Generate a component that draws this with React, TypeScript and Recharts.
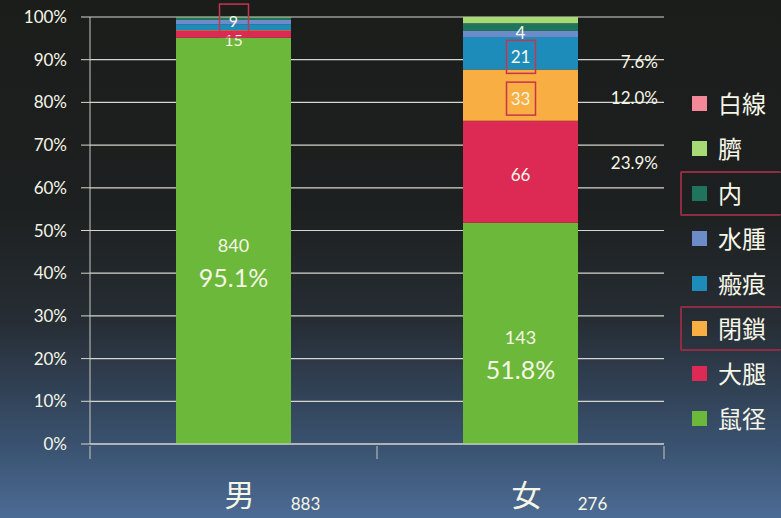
import React from 'react';
import { BarChart, Bar, XAxis, YAxis, CartesianGrid, LabelList } from 'recharts';

// hernia type counts by sex
const categories = ['男', '女'];
const totals = [883, 276];
const groin = [840, 143]; // 鼠径
const femoral = [15, 66]; // 大腿
const obturator = [1, 33]; // 閉鎖
const incisional = [12, 21]; // 瘢痕
const hydrocele = [9, 4]; // 水腫
const internal = [5, 5]; // 内
const umbilical = [1, 4]; // 臍
const linea = [0, 0]; // 白線
const yTicks = [0, 0.1, 0.2, 0.3, 0.4, 0.5, 0.6, 0.7, 0.8, 0.9, 1];

const series = [
  { key: 'groin', name: '鼠径', color: '#6cb83a', values: groin },
  { key: 'femoral', name: '大腿', color: '#dc2a55', values: femoral },
  { key: 'obturator', name: '閉鎖', color: '#f8ae42', values: obturator },
  { key: 'incisional', name: '瘢痕', color: '#1e8cba', values: incisional },
  { key: 'hydrocele', name: '水腫', color: '#6b8cc8', values: hydrocele },
  { key: 'internal', name: '内', color: '#20735c', values: internal },
  { key: 'umbilical', name: '臍', color: '#a6da74', values: umbilical },
  { key: 'linea', name: '白線', color: '#f28898', values: linea },
];

// which bars get a count label, a red highlight box, or a % note on the right
const countLabels: Record<string, number[]> = { groin: [0, 1], femoral: [0, 1], obturator: [1], incisional: [1], hydrocele: [0, 1] };
const boxedLabels: Record<string, number[]> = { hydrocele: [0], obturator: [1], incisional: [1] };
const sideNotes: Record<string, number[]> = { femoral: [1], obturator: [1], incisional: [1] };
const noteShift: Record<string, number> = { femoral: -9, obturator: 2, incisional: 8 };
const legendHighlight = ['内', '閉鎖'];

const data = categories.map((name, i) => {
  const row: any = { name, total: totals[i] };
  series.forEach((s) => { row[s.key] = s.values[i]; });
  return row;
});

const FONT = "Lato, 'Noto Sans CJK JP', sans-serif";
const TXT = '#f6f6e6';
const BAND = 287;

const pct = (v: number, t: number) => ((v / t) * 100).toFixed(1) + '%';

const makeLabel = (s: typeof series[number]) => (props: any) => {
  const { x, y, width, height, index } = props;
  if (!(countLabels[s.key] || []).includes(index)) return null;
  const cx = x + width / 2;
  const cy = y + height / 2;
  const v = s.values[index];
  const t = totals[index];
  if (s.key === 'groin') {
    return (
      <g fontFamily={FONT}>
        <text x={cx} y={cy + 4} fill={TXT} fontSize={18} textAnchor="middle" dominantBaseline="central">{v}</text>
        <text x={cx} y={cy + 36} fill={TXT} fontSize={25} textAnchor="middle" dominantBaseline="central">{pct(v, t)}</text>
      </g>
    );
  }
  const boxed = (boxedLabels[s.key] || []).includes(index);
  const note = (sideNotes[s.key] || []).includes(index);
  let ly = cy + 3;
  if (s.key === 'hydrocele') ly = index === 0 ? cy - 2 : cy - 2;
  if (s.key === 'femoral' && index === 0) ly = cy + 5;
  return (
    <g fontFamily={FONT}>
      {boxed && <rect x={cx - 14} y={ly - 16} width={29} height={33} fill="none" stroke="#c8344e" strokeWidth={1.5} />}
      <text x={cx} y={ly} fill={TXT} fontSize={index === 0 ? 16 : 17} textAnchor="middle" dominantBaseline="central">{v}</text>
      {note && <text x={x + width + 80} y={cy + (noteShift[s.key] || 0)} fill={TXT} fontSize={17} textAnchor="end" dominantBaseline="central">{pct(v, t)}</text>}
    </g>
  );
};

const XTick = (props: any) => {
  const { x, y, payload, index } = props;
  return (
    <g fontFamily={FONT}>
      {index === 0 && <line x1={x - BAND / 2} x2={x - BAND / 2} y1={y} y2={y + 13} stroke="#c8c8c0" />}
      <line x1={x + BAND / 2} x2={x + BAND / 2} y1={y} y2={y + 13} stroke="#c8c8c0" />
      <text x={x + 6} y={y + 60} fill={TXT} fontSize={30} textAnchor="middle">{payload.value}</text>
      <text x={x + 72} y={y + 64} fill={TXT} fontSize={17} textAnchor="middle">{totals[index]}</text>
    </g>
  );
};

export default function App() {
  return (
    <div
      style={{
        position: 'absolute', left: 0, top: 0, width: 781, height: 518,
        background: 'linear-gradient(to bottom, #1b1d1b 0%, #1d2020 40%, #262d34 62%, #3a5270 86%, #4c6b94 100%)',
        fontFamily: FONT,
      }}
    >
      <BarChart width={781} height={518} data={data} stackOffset="expand" margin={{ top: 17, right: 117, left: 0, bottom: 0 }} barSize={115}>
        <CartesianGrid horizontal vertical={false} stroke="#d6d6ce" strokeWidth={1.2} />
        <YAxis
          width={90}
          ticks={yTicks}
          domain={[0, 1]}
          interval={0}
          tickFormatter={(v: number) => Math.round(v * 100) + '%'}
          axisLine={{ stroke: '#c8c8c0' }}
          tickLine={{ stroke: '#d6d6ce' }}
          tickSize={9}
          tickMargin={14}
          tick={{ fill: TXT, fontSize: 17, fontFamily: FONT }}
        />
        <XAxis dataKey="name" height={74} axisLine={{ stroke: '#d6d6ce' }} tickLine={false} tickSize={0} tick={<XTick />} interval={0} />
        {series.map((s) => (
          <Bar key={s.key} dataKey={s.key} name={s.name} stackId="a" fill={s.color} isAnimationActive={false}>
            <LabelList dataKey={s.key} content={makeLabel(s)} />
          </Bar>
        ))}
      </BarChart>
      <div style={{ position: 'absolute', left: 680, top: 81, width: 101 }}>
        {[...series].reverse().map((s) => {
          const hl = legendHighlight.includes(s.name);
          return (
            <div
              key={s.key}
              style={{
                height: 45, display: 'flex', alignItems: 'center', boxSizing: 'border-box',
                border: hl ? '2px solid #8e2c44' : '2px solid transparent', borderRight: 'none',
                borderRadius: 2, paddingLeft: 10,
              }}
            >
              <span style={{ width: 15, height: 15, background: s.color, display: 'inline-block', marginRight: 11 }} />
              <span style={{ color: TXT, fontSize: 24, lineHeight: '24px', whiteSpace: 'nowrap' }}>{s.name}</span>
            </div>
          );
        })}
      </div>
    </div>
  );
}
